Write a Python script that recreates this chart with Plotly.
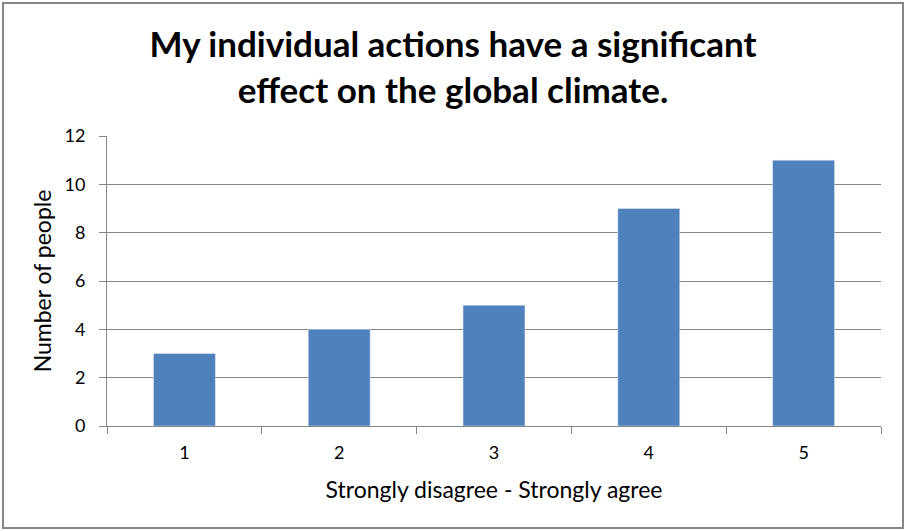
import plotly.graph_objects as go

categories = ["1", "2", "3", "4", "5"]
counts = [3, 4, 5, 9, 11]
y_ticks = [0, 2, 4, 6, 8, 10, 12]

title_text = "My individual actions have a significant<br>effect on the global climate."
x_title = "Strongly disagree - Strongly agree"
y_title = "Number of people"

W, H = 906, 531
L, R, T, B = 107, 25, 136, 105
pw, ph = W - L - R, H - T - B

font = "Lato, 'Open Sans', sans-serif"

fig = go.Figure(go.Bar(
    x=categories, y=counts, marker_color="#4F81BD", width=0.4,
))

fig.update_layout(
    width=W, height=H,
    margin=dict(l=L, r=R, t=T, b=B),
    paper_bgcolor="white", plot_bgcolor="white",
    font=dict(family=font, color="black"),
    title=dict(text="<b>" + title_text + "</b>", x=0.5, xref="container",
               xanchor="center", y=1 - 57 / H, yanchor="middle",
               font=dict(size=35, family=font, color="black")),
    showlegend=False,
    bargap=0.6,
)

fig.update_xaxes(
    type="category", tickson="boundaries", ticks="outside", ticklen=7,
    tickcolor="#868686", showline=True, linecolor="#868686", linewidth=1,
    showgrid=False, tickfont=dict(size=18), ticklabelstandoff=10,
    title=dict(text=x_title, font=dict(size=23), standoff=20),
)
fig.update_yaxes(
    range=[0, 12], tickvals=y_ticks, ticks="outside", ticklen=7,
    tickcolor="#868686", showline=True, linecolor="#868686", linewidth=1,
    showgrid=True, gridcolor="#868686", gridwidth=1, zeroline=False,
    tickfont=dict(size=18), ticklabelstandoff=10,
    title=dict(text=y_title, font=dict(size=23), standoff=6),
)

# outer chart border
fig.add_shape(
    type="rect", xref="paper", yref="paper",
    x0=(3 - L) / pw, x1=(903 - L) / pw,
    y0=(H - B - 528) / ph, y1=(H - B - 3) / ph,
    line=dict(color="#868686", width=2), fillcolor="rgba(0,0,0,0)",
    layer="below",
)

fig.write_html("out.html", config={"displayModeBar": False},
               post_script="document.body.style.margin='0';")
